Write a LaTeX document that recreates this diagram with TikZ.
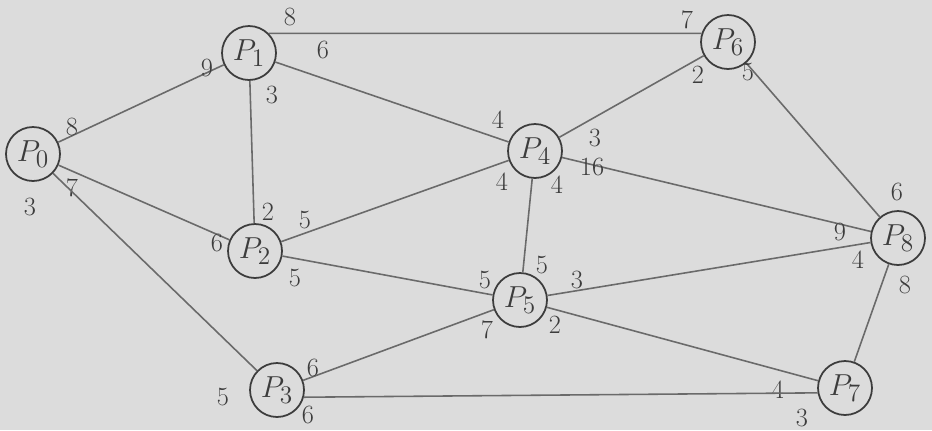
\documentclass[tikz,border=0pt]{standalone}
\usepackage{xcolor}
\usepackage{tikz}
\definecolor{paper}{HTML}{DCDCDC}
\definecolor{pencil}{HTML}{6A6A6A}
\definecolor{inkdark}{HTML}{3C3C3C}

\begin{document}
\begin{tikzpicture}[
    x=0.02cm, y=-0.02cm,
    vtx/.style={
      circle,
      draw=inkdark,
      line width=1pt,
      minimum size=1.08cm,
      inner sep=0pt,
      text=inkdark,
      font=\fontsize{19}{22}\selectfont
    },
    edge/.style={draw=pencil, line width=0.9pt},
    wt/.style={inner sep=0pt, text=inkdark, font=\fontsize{15}{17}\selectfont}
  ]
    \path[use as bounding box, fill=paper] (0,0) rectangle (932,430);

    \node[vtx] (p0) at (33,154) {$P_0$};
    \node[vtx] (p1) at (249,53) {$P_1$};
    \node[vtx] (p2) at (255,251) {$P_2$};
    \node[vtx] (p3) at (277,390) {$P_3$};
    \node[vtx] (p4) at (535,151) {$P_4$};
    \node[vtx] (p5) at (520,300) {$P_5$};
    \node[vtx] (p6) at (728,42) {$P_6$};
    \node[vtx] (p7) at (845,388) {$P_7$};
    \node[vtx] (p8) at (898,238) {$P_8$};

    \draw[edge] (p0) -- (p1) node[wt] at (72,127) {8} node[wt] at (207,68) {9};
    \draw[edge] (p0) -- (p2) node[wt] at (72,188) {7} node[wt] at (217,243) {6};
    \draw[edge] (p0) -- (p3) node[wt] at (30,207) {3} node[wt] at (223,397) {5};
    \draw[edge] (p1) -- (p2) node[wt] at (272,95) {3} node[wt] at (268,212) {2};
    \draw[edge] (p1.45) -- (p6.162) node[wt] at (290,17) {8} node[wt] at (687,20) {7};
    \draw[edge] (p1) -- (p4) node[wt] at (323,50) {6} node[wt] at (498,120) {4};
    \draw[edge] (p2) -- (p4) node[wt] at (305,220) {5} node[wt] at (502,182) {4};
    \draw[edge] (p2) -- (p5) node[wt] at (295,278) {5} node[wt] at (485,280) {5};
    \draw[edge] (p4) -- (p5) node[wt] at (557,185) {4} node[wt] at (542,265) {5};
    \draw[edge] (p4) -- (p6) node[wt] at (595,138) {3} node[wt] at (698,75) {2};
    \draw[edge] (p4) -- (p8) node[wt] at (592,167) {16} node[wt] at (840,232) {9};
    \draw[edge] (p6) -- (p8) node[wt] at (748,72) {5} node[wt] at (897,192) {6};
    \draw[edge] (p5) -- (p8) node[wt] at (577,280) {3} node[wt] at (858,260) {4};
    \draw[edge] (p5) -- (p7) node[wt] at (555,325) {2} node[wt] at (778,390) {4};
    \draw[edge] (p5) -- (p3) node[wt] at (487,330) {7} node[wt] at (313,368) {6};
    \draw[edge] (p3.-15) -- (p7.190) node[wt] at (308,415) {6} node[wt] at (802,418) {3};
    \draw[edge] (p8) -- (p7) node[wt] at (905,285) {8};
  \end{tikzpicture}
\end{document}
